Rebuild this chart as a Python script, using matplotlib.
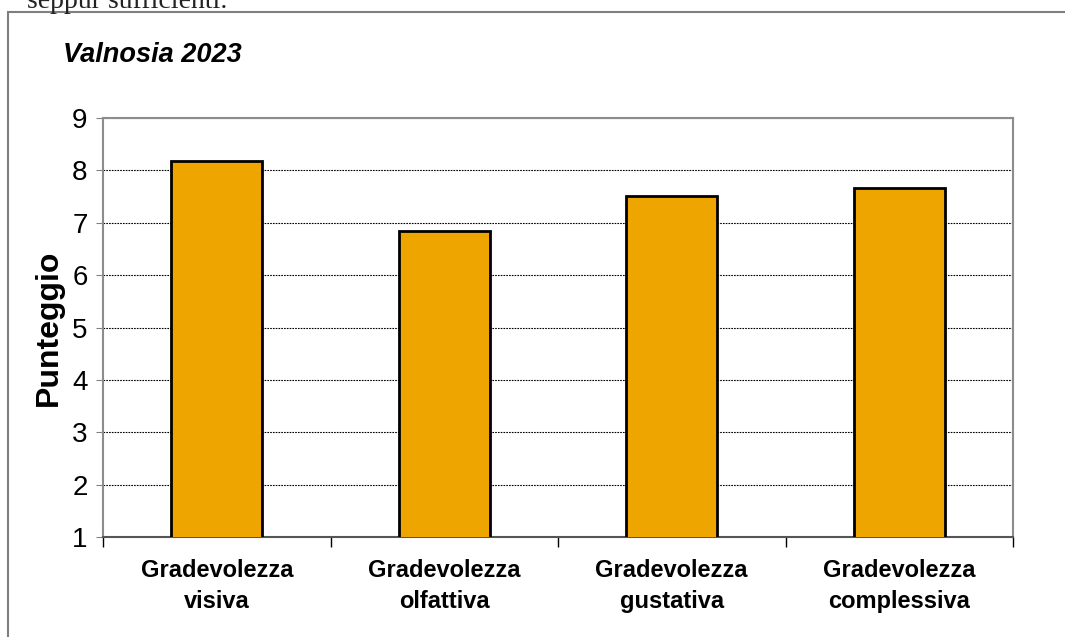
import matplotlib.pyplot as plt
from matplotlib.patches import Rectangle
from matplotlib.ticker import FixedLocator, NullFormatter

# Dati
categorie = ['Gradevolezza\nvisiva', 'Gradevolezza\nolfattiva',
             'Gradevolezza\ngustativa', 'Gradevolezza\ncomplessiva']
punteggi = [8.17, 6.85, 7.51, 7.67]
titolo = 'Valnosia 2023'

plt.rcParams['font.family'] = ['Liberation Sans', 'DejaVu Sans']

fig = plt.figure(figsize=(10.65, 6.37), dpi=100)

# testo del documento tagliato in alto e cornice del grafico
fig.text(0.025, 0.998, 'seppur sufficienti.', family='Liberation Serif',
         fontsize=20, va='center', ha='left', color='#222222')
fig.patches.append(Rectangle((8 / 1065, -0.05), 1.1, 1 - 12 / 637 + 0.05,
                             transform=fig.transFigure, fill=False,
                             edgecolor='#7f7f7f', lw=1.5))

ax = fig.add_axes([103 / 1065, 1 - 537 / 637, 910 / 1065, 419 / 637])
x = range(len(categorie))
ax.bar(x, punteggi, bottom=0, width=0.4, color='#EEA500',
       edgecolor='black', linewidth=2, zorder=3)

ax.set_xlim(-0.5, 3.5)
ax.set_ylim(1, 9)
ax.set_yticks(range(1, 10))
ax.tick_params(axis='y', labelsize=20, length=5, color='#808080', pad=6)
ax.yaxis.grid(True, linestyle=(0, (1.5, 1)), color='black', linewidth=0.8, zorder=1)

ax.set_xticks(list(x))
ax.set_xticklabels(categorie, fontsize=17, fontweight='bold', linespacing=1.45)
ax.tick_params(axis='x', length=0, pad=16)
ax.xaxis.set_minor_locator(FixedLocator([-0.5, 0.5, 1.5, 2.5, 3.5]))
ax.xaxis.set_minor_formatter(NullFormatter())
ax.tick_params(axis='x', which='minor', length=7, color='black', width=1)

for s in ['left', 'top', 'right']:
    ax.spines[s].set_color('#8c8c8c')
    ax.spines[s].set_linewidth(1.5)
ax.spines['bottom'].set_color('#555555')
ax.spines['bottom'].set_linewidth(1.5)

ax.set_ylabel('Punteggio', fontsize=23, fontweight='bold', labelpad=6)
fig.text(63 / 1065, 1 - 55 / 637, titolo, fontsize=19.5, fontweight='bold',
         fontstyle='italic', va='center', ha='left')

fig.savefig('out.png', dpi=100)
